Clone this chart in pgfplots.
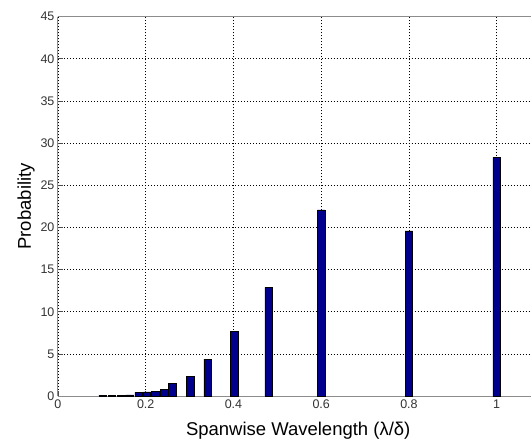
\documentclass[border=0pt]{standalone}
\usepackage{fontspec}
\setmainfont{Liberation Sans}
\usepackage{pgfplots}
\pgfplotsset{compat=1.18}
\definecolor{barblue}{RGB}{0,0,140}
\begin{document}
\begin{tikzpicture}
\begin{axis}[
  scale only axis,
  width=473pt, height=379.8pt,
  xmin=0, xmax=1.077, ymin=0, ymax=45,
  axis x line*=box, axis y line*=left,
  tick pos=left,
  axis line style={draw=black!45, line width=1pt},
  xtick={0,0.2,0.4,0.6,0.8,1},
  xticklabels={0,0.2,0.4,0.6,0.8,1},
  ytick={0,5,...,45},
  major tick length=5pt,
  every tick/.style={black!70, line width=0.8pt},
  grid=major,
  major grid style={black, line width=0.8pt, dash pattern=on 1pt off 2pt},
  tick label style={font=\fontsize{12.5}{13}\selectfont, text=black!80},
  /pgf/number format/assume math mode=true,
  xlabel={Spanwise Wavelength (λ/δ)},
  ylabel={Probability},
  label style={font=\fontsize{18.5}{20}\selectfont, text=black},
  xlabel style={xshift=4pt, yshift=-7pt},
  ylabel style={yshift=-1pt},
  axis on top=false,
]
\addplot[ybar, bar width=0.017, fill=barblue, draw=black, line width=0.5pt] coordinates {
(0.102,0.12) (0.123,0.12) (0.144,0.12) (0.164,0.15) (0.184,0.45)
(0.203,0.5) (0.222,0.6) (0.242,0.8) (0.261,1.5) (0.302,2.35)
(0.341,4.4) (0.402,7.7) (0.480,12.9) (0.600,22.1) (0.800,19.6) (1.000,28.3)
};
\end{axis}
\path ([xshift=-58pt,yshift=-47.5pt]current axis.south west) rectangle ([yshift=16.7pt]current axis.north east);
\end{tikzpicture}
\end{document}
